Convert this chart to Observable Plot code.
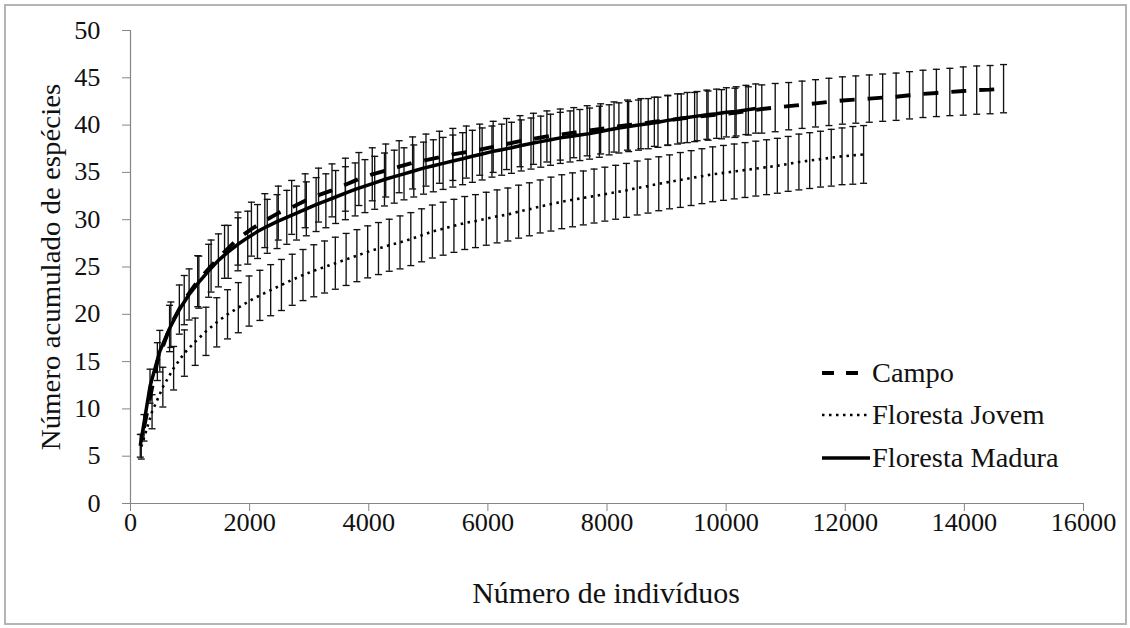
<!DOCTYPE html>
<html><head><meta charset="utf-8">
<script src="https://cdn.jsdelivr.net/npm/d3@7"></script>
<script src="https://cdn.jsdelivr.net/npm/@observablehq/plot@0.6"></script>
<style>
html,body{margin:0;padding:0;background:#fff;}
#wrap{position:relative;width:1130px;height:628px;overflow:hidden;background:#fff;font-family:'Liberation Serif','Times New Roman',serif;color:#111;}
#border{position:absolute;left:4px;top:4px;width:1123px;height:621px;border:2px solid #b4b4b4;box-sizing:border-box;}
#chart{position:absolute;left:0;top:0;}
.leg{position:absolute;left:820px;height:30px;width:300px;}
.leg svg{position:absolute;left:0;top:0;}
.leg span{position:absolute;left:52px;top:0;line-height:30px;font-size:27px;white-space:nowrap;transform:scaleX(1.05);transform-origin:left center;}
</style></head>
<body>
<div id="wrap">
  <div id="border"></div>
  <div id="chart"></div>
  <div class="leg" style="top:358px"><svg width="50" height="30"><line x1="2" x2="48" y1="15" y2="15" stroke="#000" stroke-width="3.8" stroke-dasharray="12,12"/></svg><span>Campo</span></div>
  <div class="leg" style="top:400px"><svg width="50" height="30"><line x1="2" x2="48" y1="15" y2="15" stroke="#000" stroke-width="2.6" stroke-dasharray="2.5,4.5"/></svg><span>Floresta Jovem</span></div>
  <div class="leg" style="top:443px"><svg width="50" height="30"><line x1="2" x2="50" y1="15" y2="15" stroke="#000" stroke-width="3.4"/></svg><span>Floresta Madura</span></div>
</div>
<script>
// ---------- data ----------
const seriesNames = ["Campo", "Floresta Jovem", "Floresta Madura"];
const xTicks = [0,2000,4000,6000,8000,10000,12000,14000,16000];
const yTicks = [0,5,10,15,20,25,30,35,40,45,50];

const campoX = [226,451,677,902,1128,1353,1579,1804,2030,2255,
 2481,2706,2932,3157,3383,3608,3834,4059,4285,4510,
 4736,4961,5187,5412,5638,5863,6089,6314,6540,6765,
 6991,7216,7442,7667,7893,8118,8344,8569,8795,9020,
 9246,9471,9697,9922,10148,10373,10599,10824,11050,11275,
 11501,11726,11952,12177,12403,12628,12854,13079,13305,13530,
 13756,13981,14207,14432,14658];
const campoMean = [8.0,15.0,18.9,21.5,23.5,25.1,26.6,28.0,29.0,29.9,
 30.7,31.3,32.0,32.6,33.1,33.7,34.3,34.8,35.2,35.6,
 36.0,36.3,36.6,36.9,37.15,37.4,37.7,38.0,38.3,38.55,
 38.8,39.0,39.2,39.4,39.6,39.8,40.0,40.15,40.35,40.5,
 40.7,40.85,41.0,41.15,41.3,41.5,41.7,41.85,42.0,42.15,
 42.3,42.45,42.6,42.7,42.8,42.9,43.0,43.15,43.3,43.4,
 43.5,43.6,43.7,43.75,43.85];
const campoErr = [1.4,2.0,2.4,2.6,2.7,2.75,2.8,2.8,2.85,2.85,
 2.85,2.85,2.85,2.85,2.8,2.8,2.8,2.8,2.8,2.75,
 2.75,2.75,2.75,2.75,2.75,2.7,2.7,2.7,2.7,2.7,
 2.7,2.7,2.65,2.65,2.65,2.65,2.65,2.65,2.6,2.6,
 2.6,2.6,2.6,2.6,2.6,2.55,2.55,2.55,2.5,2.5,
 2.5,2.5,2.5,2.5,2.5,2.5,2.5,2.5,2.5,2.5,
 2.5,2.55,2.55,2.55,2.55];

const jovemX = [181,362,543,724,905,1086,1267,1448,1629,1810,
 1991,2172,2353,2534,2715,2896,3077,3258,3439,3620,
 3801,3982,4163,4344,4525,4706,4887,5068,5249,5430,
 5611,5792,5973,6154,6335,6516,6697,6878,7059,7240,
 7421,7602,7783,7964,8145,8326,8507,8688,8869,9050,
 9231,9412,9593,9774,9955,10136,10317,10498,10679,10860,
 11041,11222,11403,11584,11765,11946,12127,12308];
const jovemMean = [6.0,9.7,12.3,14.3,15.9,17.1,18.2,19.15,20.0,20.7,
 21.4,22.0,22.55,23.1,23.65,24.15,24.6,25.0,25.4,25.8,
 26.2,26.6,26.95,27.3,27.6,27.95,28.35,28.75,29.05,29.35,
 29.65,29.85,30.1,30.35,30.55,30.85,31.1,31.4,31.65,31.9,
 32.1,32.3,32.5,32.7,32.9,33.1,33.35,33.55,33.8,34.0,
 34.2,34.4,34.6,34.8,34.95,35.1,35.25,35.4,35.55,35.7,
 35.9,36.1,36.25,36.4,36.55,36.7,36.8,36.9];
const jovemErr = [1.3,1.8,2.1,2.3,2.45,2.5,2.55,2.6,2.6,2.65,
 2.65,2.65,2.7,2.7,2.7,2.7,2.75,2.75,2.75,2.75,
 2.75,2.75,2.75,2.75,2.8,2.8,2.8,2.8,2.8,2.8,
 2.8,2.8,2.8,2.8,2.8,2.8,2.8,2.8,2.85,2.85,
 2.85,2.85,2.85,2.85,2.85,2.85,2.85,2.85,2.85,2.85,
 2.9,2.9,2.9,2.9,2.9,2.9,2.9,2.9,2.9,2.9,
 2.9,2.95,2.95,2.95,3.0,3.0,3.05,3.05];

const maduraX = [164,328,492,656,820,984,1148,1312,1476,1640,
 1804,1968,2132,2296,2460,2624,2788,2952,3116,3280,
 3444,3608,3772,3936,4100,4264,4428,4592,4756,4920,
 5084,5248,5412,5576,5740,5904,6068,6232,6396,6560,
 6724,6888,7052,7216,7380,7544,7708,7872,8036,8200,
 8364,8528,8692,8856,9020,9184,9348,9512,9676,9840,
 10004,10168,10332,10496];
const maduraMean = [6.1,12.4,16.1,18.5,20.5,22.1,23.4,24.6,25.7,26.6,
 27.4,28.1,28.75,29.3,29.8,30.25,30.7,31.15,31.6,32.0,
 32.4,32.8,33.2,33.55,33.9,34.25,34.55,34.85,35.15,35.45,
 35.7,35.95,36.2,36.45,36.7,36.95,37.2,37.4,37.6,37.85,
 38.05,38.25,38.45,38.65,38.8,38.95,39.1,39.3,39.5,39.7,
 39.85,40.0,40.15,40.3,40.5,40.65,40.8,40.95,41.1,41.2,
 41.35,41.45,41.6,41.75];
const maduraErr = [1.2,1.8,2.2,2.45,2.6,2.7,2.75,2.8,2.8,2.8,
 2.8,2.8,2.85,2.85,2.85,2.85,2.85,2.85,2.85,2.85,
 2.8,2.8,2.8,2.8,2.8,2.8,2.8,2.75,2.75,2.75,
 2.75,2.75,2.75,2.75,2.75,2.75,2.7,2.7,2.7,2.7,
 2.7,2.7,2.7,2.7,2.7,2.7,2.7,2.7,2.65,2.65,
 2.65,2.65,2.65,2.65,2.65,2.65,2.65,2.6,2.6,2.6,
 2.6,2.6,2.6,2.6];

// ---------- build ----------
function toRows(name, xs, ms, es) {
  return xs.map((x, i) => ({series: name, x, y: ms[i], lo: ms[i] - es[i], hi: ms[i] + es[i]}));
}
const campo = toRows(seriesNames[0], campoX, campoMean, campoErr);
const jovem = toRows(seriesNames[1], jovemX, jovemMean, jovemErr);
const madura = toRows(seriesNames[2], maduraX, maduraMean, maduraErr);
const all = [...jovem, ...campo, ...madura];

const capSymbol = {
  draw(ctx, size) {
    const r = Math.sqrt(size / Math.PI);
    ctx.moveTo(-r, 0);
    ctx.lineTo(r, 0);
  }
};
const axisGray = "#868686";
const ink = "#111";

const plot = Plot.plot({
  width: 1130,
  height: 628,
  marginLeft: 130,
  marginRight: 47,
  marginTop: 30,
  marginBottom: 125,
  x: {domain: [0, 16000]},
  y: {domain: [0, 50]},
  style: {fontFamily: "'Liberation Serif','Times New Roman',serif", background: "transparent", color: ink},
  marks: [
    Plot.ruleX(all, {x: "x", y1: "lo", y2: "hi", stroke: ink, strokeWidth: 1.35}),
    Plot.dot(all, {x: "x", y: "lo", symbol: capSymbol, r: 3.5, stroke: ink, fill: "none", strokeWidth: 1.35}),
    Plot.dot(all, {x: "x", y: "hi", symbol: capSymbol, r: 3.5, stroke: ink, fill: "none", strokeWidth: 1.35}),
    Plot.line(jovem, {x: "x", y: "y", stroke: "#000", strokeWidth: 2.6, strokeDasharray: "2.5,4.5", strokeLinecap: "butt"}),
    Plot.line(madura, {x: "x", y: "y", stroke: "#000", strokeWidth: 3.5, strokeLinecap: "butt"}),
    Plot.line(campo, {x: "x", y: "y", stroke: "#000", strokeWidth: 3.9, strokeDasharray: "15,13", strokeLinecap: "butt"}),
    Plot.ruleY([0], {stroke: axisGray, strokeWidth: 1.2}),
    Plot.ruleX([0], {stroke: axisGray, strokeWidth: 1.2}),
    Plot.axisX({ticks: xTicks, tickSize: 8, tickPadding: 2, tickFormat: d => String(d), label: null, fontSize: 25, stroke: axisGray, fill: ink}),
    Plot.axisY({ticks: yTicks, tickSize: 8, tickPadding: 22, tickFormat: d => String(d), label: null, fontSize: 25, stroke: axisGray, fill: ink})
  ]
});

const svg = d3.select(plot);
svg.append("text")
  .attr("x", 606).attr("y", 593)
  .attr("text-anchor", "middle").attr("dominant-baseline", "central")
  .attr("font-size", 28.5).attr("fill", ink)
  .text("Número de indivíduos");
svg.append("text")
  .attr("transform", "translate(50,267) rotate(-90)")
  .attr("text-anchor", "middle").attr("dominant-baseline", "central")
  .attr("font-size", 27.5).attr("fill", ink)
  .text("Número acumulado de espécies");

document.getElementById("chart").appendChild(plot);

// widen glyphs slightly, as in the reference image
plot.querySelectorAll("text").forEach(t => {
  const L = t.getComputedTextLength();
  if (L > 0) {
    t.setAttribute("textLength", (L * 1.05).toFixed(1));
    t.setAttribute("lengthAdjust", "spacingAndGlyphs");
  }
});
</script>
</body></html>
